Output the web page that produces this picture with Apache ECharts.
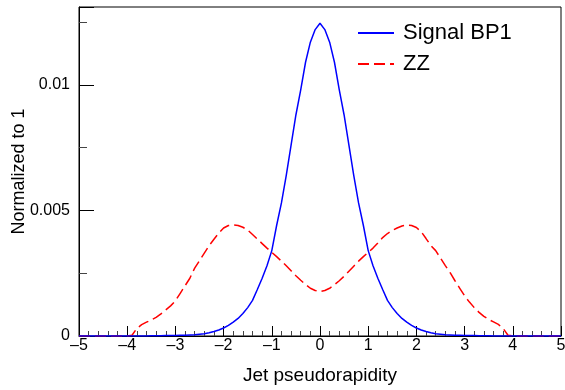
<!DOCTYPE html>
<html>
<head>
<meta charset="utf-8">
<script src="https://cdn.jsdelivr.net/npm/echarts@6/dist/echarts.min.js"></script>
<style>html,body{margin:0;padding:0;background:#fff}#c{width:565px;height:390px}</style>
</head>
<body>
<div id="c"></div>
<script>
// bin centres of the histogram (eta from -5 to 5 in steps of 0.1)
const eta = Array.from({length: 101}, (_, i) => +(-5 + i * 0.1).toFixed(1));

const signalBP1 = [
  0,0,0,0,0,0,0,0,0,0,0,0,0,0,0,
  0.00001,0.00001,0.00001,0.00002,0.00002,0.00002,0.00003,0.00003,0.00004,0.00005,
  0.00007,0.00009,0.00013,0.00018,0.00024,0.00032,0.00042,0.00055,0.0007,0.0009,
  0.00113,0.00142,0.00185,0.0023,0.0028,0.0034,0.0044,0.0053,0.0064,0.0076,
  0.0088,0.0098,0.0109,0.0117,0.0122,
  0.01245,
  0.0122,0.0117,0.0109,0.0098,0.0088,0.0076,0.0064,0.0053,0.0044,0.0034,
  0.0028,0.0023,0.00185,0.00142,0.00113,0.0009,0.0007,0.00055,0.00042,0.00032,
  0.00024,0.00018,0.00013,0.00009,0.00007,0.00005,0.00004,0.00003,0.00003,0.00002,
  0.00002,0.00002,0.00001,0.00001,0.00001,
  0,0,0,0,0,0,0,0,0,0,0,0,0,0,0
];

const zz = [
  0,0,0,0,0,0,0,0,0,0,0,
  0.00003,0.0003,0.00045,0.00055,0.00064,0.00074,0.00088,0.00104,0.0012,0.0014,
  0.0017,0.002,0.0023,0.0027,0.003,0.0033,0.0036,0.00385,0.0041,0.0043,
  0.0044,0.00442,0.0044,0.00433,0.00422,0.00404,0.00386,0.00368,0.0035,0.00333,
  0.00316,0.00298,0.0028,0.0026,0.0024,0.00222,0.00205,0.0019,0.00181,
  0.00177,
  0.00181,0.0019,0.00204,0.0022,0.00238,0.00258,0.00278,0.00298,0.00316,0.00333,
  0.0035,0.0037,0.00392,0.00408,0.0042,0.0043,0.00438,0.00442,0.0044,0.00432,
  0.00415,0.00388,0.0036,0.0034,0.0031,0.0028,0.00252,0.0022,0.0019,0.0016,
  0.00135,0.00113,0.00094,0.00078,0.00066,0.00056,0.00046,0.0003,0.00003,
  0,0,0,0,0,0,0,0,0,0,0
];

const yTickLabels = {'0': '0', '0.005': '0.005', '0.01': '0.01'};

const font = 'Liberation Sans, Arial, Helvetica, sans-serif';
const chart = echarts.init(document.getElementById('c'), null, {renderer: 'canvas'});
chart.setOption({
  animation: false,
  backgroundColor: '#fff',
  grid: {left: 79, right: 4, top: 7, bottom: 54, show: true, borderColor: '#000', borderWidth: 1,
    backgroundColor: 'transparent', containLabel: false, outerBoundsMode: 'none'},
  legend: {
    show: true, type: 'plain', padding: 0,
    orient: 'vertical', left: 357, top: 22, right: 'auto', bottom: 'auto',
    itemWidth: 36, itemHeight: 14, itemGap: 9,
    itemStyle: {opacity: 0},
    textStyle: {fontFamily: font, fontSize: 22, color: '#000', padding: [0, 0, 0, 4]},
    data: ['Signal BP1', 'ZZ']
  },
  xAxis: {
    type: 'value', min: -5, max: 5, interval: 1,
    name: 'Jet pseudorapidity', nameLocation: 'middle', nameGap: 30, nameMoveOverlap: false,
    nameTextStyle: {fontFamily: font, fontSize: 19, color: '#000'},
    axisLine: {show: true, onZero: false, lineStyle: {color: '#000', width: 1}},
    axisTick: {show: true, inside: true, length: 10, lineStyle: {color: '#000'}},
    minorTick: {show: true, splitNumber: 5, length: 5, lineStyle: {color: '#444'}},
    splitLine: {show: false},
    axisLabel: {fontFamily: font, fontSize: 16, color: '#000', margin: 2,
      formatter: v => String(v).replace('-', '\u2013')}
  },
  yAxis: [{
    type: 'value', min: 0, max: 0.0131, interval: 0.0025, position: 'left',
    name: 'Normalized to 1', nameLocation: 'middle', nameGap: 51, nameRotate: 90, nameMoveOverlap: false,
    nameTextStyle: {fontFamily: font, fontSize: 18, color: '#000'},
    axisLine: {show: true, onZero: false, lineStyle: {color: '#000', width: 1}},
    axisTick: {show: true, inside: true, length: 8, lineStyle: {color: '#444'}},
    splitLine: {show: false},
    axisLabel: {fontFamily: font, fontSize: 16, color: '#000', margin: 9, showMaxLabel: false,
      formatter: v => {
        const k = String(+v.toFixed(6));
        return yTickLabels[k] !== undefined ? yTickLabels[k] : '';
      }}
  }, {
    type: 'value', min: 0, max: 0.0131, interval: 0.005, position: 'left', offset: 0,
    axisLine: {show: false, onZero: false},
    axisTick: {show: true, inside: true, length: 15, lineStyle: {color: '#000'}},
    splitLine: {show: false},
    axisLabel: {show: false}
  }],
  series: [{
    name: 'Signal BP1', type: 'line', yAxisIndex: 0, symbol: 'none',
    data: eta.map((x, i) => [x, signalBP1[i]]),
    lineStyle: {color: '#0000ff', width: 1.5}, itemStyle: {color: '#0000ff'}, z: 3
  }, {
    name: 'ZZ', type: 'line', yAxisIndex: 0, symbol: 'none',
    data: eta.map((x, i) => [x, zz[i]]),
    lineStyle: {color: '#ff0000', width: 1.5, type: [11, 5]}, itemStyle: {color: '#ff0000'}, z: 2
  }]
});
</script>
</body>
</html>
